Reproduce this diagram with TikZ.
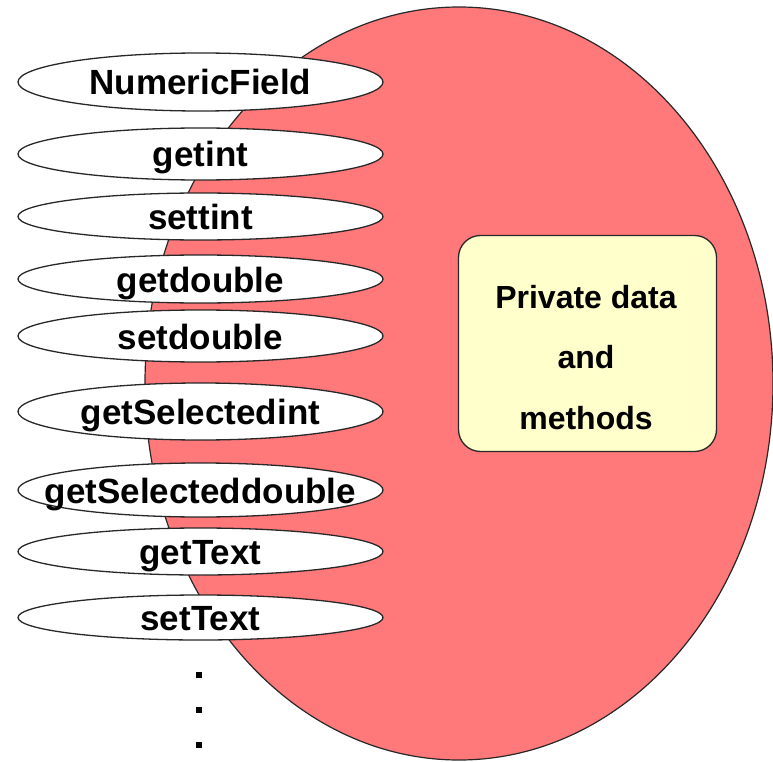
\documentclass[tikz,border=0pt]{standalone}
\usepackage{fontspec}
\setmainfont{Liberation Sans}
\usetikzlibrary{shapes.geometric}
\definecolor{objpink}{RGB}{255,120,122}
\definecolor{privyellow}{RGB}{255,255,204}
\definecolor{edgegray}{RGB}{40,40,40}
% label of zero width, so every method ellipse keeps its set size
\newcommand\mlabel[1]{\makebox[0pt]{#1}}
\tikzset{
  method/.style={ellipse, draw=edgegray, line width=1.3pt, fill=white,
    minimum width=365pt, inner sep=0pt,
    font=\bfseries\fontsize{35}{40}\selectfont,
    text height=26pt, text depth=0pt},
  privbox/.style={rectangle, rounded corners=22pt, draw=edgegray,
    line width=1.3pt, fill=privyellow, minimum width=258pt,
    minimum height=216pt, inner sep=0pt},
  privtext/.style={anchor=base, inner sep=0pt,
    font=\bfseries\fontsize{32}{38}\selectfont},
  dotmark/.style={rectangle, fill=black, minimum size=6pt, inner sep=0pt}
}
\begin{document}
\begin{tikzpicture}[x=1pt, y=-1pt]
  \useasboundingbox (0,0) rectangle (773,762);
  % the object body
  \draw[draw=edgegray, line width=1.2pt, fill=objpink]
    (459,383.5) ellipse [x radius=314, y radius=376.5];
  % private part
  \node[privbox] (priv) at (587.5,343.5) {};
  \node[privtext] (privA) at (586,308) {Private data};
  \node[privtext] (privB) at (586,368) {and};
  \node[privtext] (privC) at (586,429) {methods};
  % public methods
  \node[method, minimum height=58pt] (nf)  at (200.5,82)    {\mlabel{NumericField}};
  \node[method, minimum height=52pt] (gi)  at (200.5,154)   {\mlabel{getint}};
  \node[method, minimum height=47pt] (si)  at (200.5,216.5) {\mlabel{settint}};
  \node[method, minimum height=48pt] (gd)  at (200.5,279)   {\mlabel{getdouble}};
  \node[method, minimum height=52pt] (sd)  at (200.5,336)   {\mlabel{setdouble}};
  \node[method, minimum height=57pt] (gsi) at (200.5,411.5) {\mlabel{getSelectedint}};
  \node[method, minimum height=54pt] (gsd) at (200.5,490)   {\mlabel{getSelecteddouble}};
  \node[method, minimum height=47pt] (gt)  at (200.5,551.5) {\mlabel{getText}};
  \node[method, minimum height=45pt] (st)  at (200.5,617.5) {\mlabel{setText}};
  % more methods follow
  \node[dotmark] (d1) at (199,675) {};
  \node[dotmark] (d2) at (199,710) {};
  \node[dotmark] (d3) at (199,745) {};
\end{tikzpicture}
\end{document}
